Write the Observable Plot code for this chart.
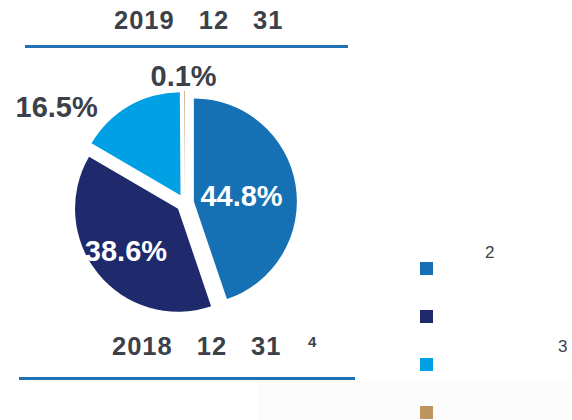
<!DOCTYPE html>
<html>
<head>
<meta charset="utf-8">
<script src="https://cdn.jsdelivr.net/npm/d3@7"></script>
<script src="https://cdn.jsdelivr.net/npm/@observablehq/plot@0.6"></script>
<style>
  body { margin: 0; background: #fff; }
  #chart { position: relative; width: 572px; height: 420px; overflow: hidden;
           font-family: "Liberation Sans", Arial, sans-serif; color: #3b4049; }
  #chart .abs { position: absolute; white-space: nowrap; }
  .date { font-weight: bold; font-size: 25.5px; line-height: 25.5px; letter-spacing: 1px; }
  .date span + span { margin-left: 24px; }
  .rule { position: absolute; height: 2.5px; background: #2070b3; }
  .swatch { position: absolute; width: 13px; height: 13px; }
  .note { font-size: 17px; line-height: 17px; }
  .panel { position: absolute; background: #fcfcfc; }
</style>
</head>
<body>
<div id="chart"></div>
<script>
// Composition shares (%) for the period shown in the pie
const categories = ["Segment 1", "Segment 2", "Segment 3", "Segment 4"];
const shares = [44.8, 38.6, 16.5, 0.1];
const colors = ["#1570b4", "#1e2a6c", "#00a0e4", "#bc965e"];

// Heading texts (date parts) and note markers
const titleParts = ["2019", "12", "31"];
const footParts = ["2018", "12", "31"];
const footNote = "4";
const legendNotes = ["2", "", "3", ""];

// Layout of the pie: centre in page pixels, radius, explode distance
const R = 103, CX = 185, CY = 203, EXPLODE = 9 / 103;
// Label placement per slice: radius (in radii) and angular shift (deg) from the slice's mid-angle
const labelRadius = [0.548, 0.742, 1.561, 1.233];
const labelShift = [2.3, 0.4, -23.2, -0.7];
const labelInside = [true, true, false, false];

const W = 572, H = 420;
const root = document.getElementById("chart");

const rows = categories.map((c, i) => ({category: c, value: shares[i]}));
const arcs = d3.pie().sort(null).value(d => d.value)(rows);
const color = d3.scaleOrdinal(categories, colors);

const labelRows = arcs.map((a, i) => {
  const mid = (a.startAngle + a.endAngle) / 2 + labelShift[i] * Math.PI / 180;
  return {
    text: a.data.value.toFixed(1) + "%",
    lx: labelRadius[i] * Math.sin(mid),
    ly: labelRadius[i] * Math.cos(mid),
    fill: labelInside[i] ? "#ffffff" : "#3b4049"
  };
});

// Exploded slices, placed through the x/y scales (pie units: radius = 1)
function slices(index, scales) {
  const x = scales.x, y = scales.y;
  const cx = x(0), cy = y(0), r = x(1) - x(0), off = EXPLODE * r;
  const arc = d3.arc().innerRadius(0).outerRadius(r);
  const g = d3.create("svg:g");
  g.selectAll("path").data(arcs).join("path")
    .attr("d", arc)
    .attr("fill", d => color(d.data.category))
    .attr("transform", d => {
      const m = (d.startAngle + d.endAngle) / 2;
      return `translate(${cx + off * Math.sin(m)},${cy - off * Math.cos(m)})`;
    });
  return g.node();
}

// faint panel in the lower right
const panel = document.createElement("div");
panel.className = "panel";
Object.assign(panel.style, {left: "258px", top: "382px", width: (W - 258) + "px", height: (H - 382) + "px"});
root.appendChild(panel);

const plot = Plot.plot({
  width: W,
  height: H,
  margin: 0,
  style: {background: "transparent", position: "absolute", left: "0px", top: "0px"},
  x: {domain: [-CX / R, (W - CX) / R], axis: null},
  y: {domain: [-(H - CY) / R, CY / R], axis: null},
  marks: [
    slices,
    Plot.text(labelRows, {
      x: "lx", y: "ly", text: "text", fill: "fill",
      fontSize: 29, fontWeight: "bold",
      fontFamily: "Liberation Sans, Arial, sans-serif"
    })
  ]
});
root.appendChild(plot);

function dateLine(parts, left, top) {
  const d = document.createElement("div");
  d.className = "abs date";
  d.style.left = left + "px";
  d.style.top = top + "px";
  parts.forEach(p => { const s = document.createElement("span"); s.textContent = p; d.appendChild(s); });
  root.appendChild(d);
}
function rule(left, right, top) {
  const r = document.createElement("div");
  r.className = "rule";
  Object.assign(r.style, {left: left + "px", width: (right - left) + "px", top: top + "px"});
  root.appendChild(r);
}
function text(t, left, top, cls, extra) {
  const d = document.createElement("div");
  d.className = "abs " + cls;
  d.textContent = t;
  Object.assign(d.style, {left: left + "px", top: top + "px"}, extra || {});
  root.appendChild(d);
}

dateLine(titleParts, 114, 7.7);
rule(25, 348, 45);
dateLine(footParts, 112, 334.2);
text(footNote, 308, 334, "", {fontWeight: "bold", fontSize: "15px", lineHeight: "15px"});
rule(19, 355, 377);

// Legend: swatches from the slice colours, with note markers
categories.forEach((c, i) => {
  const s = document.createElement("div");
  s.className = "swatch";
  Object.assign(s.style, {left: "420px", top: (262 + 48 * i) + "px", background: color(c)});
  root.appendChild(s);
});
const notePos = [[485, 243.5], null, [558, 337.5], null];
legendNotes.forEach((n, i) => { if (n) text(n, notePos[i][0], notePos[i][1], "note"); });
</script>
</body>
</html>
